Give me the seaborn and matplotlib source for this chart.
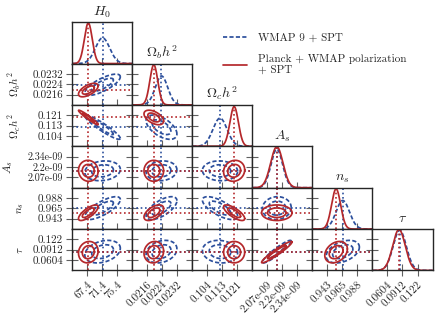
import numpy as np
import matplotlib
matplotlib.use("Agg")
import matplotlib.pyplot as plt
from matplotlib.lines import Line2D
import seaborn as sns

# parameter names, ticks and axis ranges
params = [r"$H_0$", r"$\Omega_b h^2$", r"$\Omega_c h^2$", r"$A_s$", r"$n_s$", r"$\tau$"]
tick_values = [
    [67.4, 71.4, 75.4],
    [0.0216, 0.0224, 0.0232],
    [0.104, 0.1125, 0.121],
    [2.07e-9, 2.205e-9, 2.34e-9],
    [0.943, 0.9655, 0.988],
    [0.0604, 0.0912, 0.122],
]
tick_labels = [
    ["67.4", "71.4", "75.4"],
    ["0.0216", "0.0224", "0.0232"],
    ["0.104", "0.113", "0.121"],
    ["2.07e-09", "2.2e-09", "2.34e-09"],
    ["0.943", "0.965", "0.988"],
    ["0.0604", "0.0912", "0.122"],
]
limits = [
    (63.4, 79.4),
    (0.0208, 0.0240),
    (0.0955, 0.1295),
    (1.935e-9, 2.475e-9),
    (0.9205, 1.0105),
    (0.0296, 0.1528),
]

# WMAP 9 + SPT
wmap_mean = [71.5, 0.02236, 0.1112, 2.155e-9, 0.966, 0.0855]
wmap_sigma = [1.9, 0.00033, 0.0040, 0.052e-9, 0.0100, 0.0135]
wmap_peak = [0.62, 0.70, 0.68, 0.93, 0.69, 0.97]
wmap_corr = [
    [],
    [0.75],
    [-0.93, -0.55],
    [0.15, 0.10, -0.05],
    [0.75, 0.65, -0.70, 0.05],
    [0.30, 0.25, -0.10, 0.93, 0.40],
]

# Planck + WMAP polarization + SPT
planck_mean = [67.7, 0.02195, 0.1192, 2.155e-9, 0.956, 0.084]
planck_sigma = [1.05, 0.00021, 0.0024, 0.055e-9, 0.0068, 0.0128]
planck_peak = [0.98, 0.97, 0.96, 0.99, 0.97, 0.99]
planck_corr = [
    [],
    [0.60],
    [-0.96, -0.50],
    [-0.05, 0.0, 0.10],
    [0.75, 0.55, -0.75, 0.0],
    [0.10, 0.10, 0.0, 0.95, 0.30],
]

levels = [1.52, 2.49]  # 68% / 95% in 2D

blue = "#2c4f9c"
red = "#b5282b"
dash = (0, (2.4, 1.3))
dot = (0, (1, 1.6))
datasets = [
    (wmap_mean, wmap_sigma, wmap_peak, wmap_corr, blue, dash),
    (planck_mean, planck_sigma, planck_peak, planck_corr, red, "-"),
]

# right edge of the row labels, in pixels from the figure's left edge
ylabel_px = [0, 23, 23, 15, 26, 25]

sns.set_style("ticks")
plt.rcParams.update({
    "font.family": "serif",
    "font.serif": ["cmr10", "DejaVu Serif"],
    "mathtext.fontset": "cm",
    "axes.unicode_minus": False,
})

fig, axes = plt.subplots(6, 6, figsize=(4.4, 3.31), dpi=100)
fig.subplots_adjust(left=0.164, right=0.983, bottom=0.183, top=0.933, wspace=0, hspace=0)

theta = np.linspace(0, 2 * np.pi, 240)
panel_w = (0.983 - 0.164) * 440 / 6

for i in range(6):
    for j in range(6):
        ax = axes[i, j]
        if j > i:
            ax.remove()
            continue
        for sp in ax.spines.values():
            sp.set_visible(True)
            sp.set_color("#262626")
            sp.set_linewidth(1.0)
        ax.tick_params(direction="inout", length=9, width=0.8, color="#606060",
                       labelsize=8, pad=2)
        ax.set_xlim(limits[j])
        ax.set_xticks(tick_values[j])
        if i == 5:
            ax.set_xticklabels(tick_labels[j], rotation=45, ha="right",
                               rotation_mode="anchor")
        else:
            ax.set_xticklabels([])

        if i == j:
            lo, hi = limits[i]
            xs = np.linspace(lo, hi, 300)
            for mean, sigma, peak, corr, col, ls in datasets:
                ys = peak[i] * np.exp(-0.5 * ((xs - mean[i]) / sigma[i]) ** 2)
                sns.lineplot(x=xs, y=ys, ax=ax, color=col, linestyle=ls, lw=1.25,
                             estimator=None, sort=False, legend=False)
                ax.axvline(mean[i], color=col, ls=dot, lw=1.2)
            ax.set_ylim(0, 1.0)
            if i > 0:
                ax.set_yticks([(t - lo) / (hi - lo) for t in tick_values[i]])
            else:
                ax.set_yticks([])
            ax.set_yticklabels([])
            ax.set_title(params[i], fontsize=10, pad=5)
        else:
            for mean, sigma, peak, corr, col, ls in datasets:
                rho = corr[i][j]
                for r in levels:
                    ex = mean[j] + r * sigma[j] * np.cos(theta)
                    ey = mean[i] + r * sigma[i] * (rho * np.cos(theta)
                                                   + np.sqrt(1 - rho ** 2) * np.sin(theta))
                    sns.lineplot(x=ex, y=ey, ax=ax, color=col, linestyle=ls, lw=1.25,
                                 estimator=None, sort=False, legend=False)
                ax.axvline(mean[j], color=col, ls=dot, lw=1.2)
                ax.axhline(mean[i], color=col, ls=dot, lw=1.2)
            ax.set_ylim(limits[i])
            ax.set_yticks(tick_values[i])
            if j == 0:
                ax.set_yticklabels(tick_labels[i])
                if i == 3:
                    ax.tick_params(axis="y", labelsize=7.2)
                ax.set_ylabel(params[i], fontsize=8)
                ax.yaxis.set_label_coords((ylabel_px[i] - 0.164 * 440) / panel_w, 0.5)
            else:
                ax.set_yticklabels([])
        ax.set_xlabel("")

handles = [
    Line2D([], [], color=blue, linestyle=dash, lw=1.25),
    Line2D([], [], color=red, linestyle="-", lw=1.25),
]
fig.legend(handles, ["WMAP 9 + SPT", "Planck + WMAP polarization\n+ SPT"],
           loc="upper left", bbox_to_anchor=(0.496, 0.913), frameon=False,
           fontsize=8, handlelength=2.2, handletextpad=1.0, labelspacing=1.0,
           borderaxespad=0)

fig.savefig("out.png", dpi=100)
